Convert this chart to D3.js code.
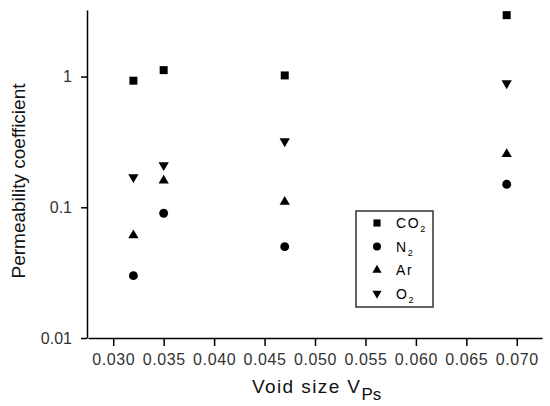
<!DOCTYPE html>
<html>
<head>
<meta charset="utf-8">
<script src="https://cdn.jsdelivr.net/npm/d3@7"></script>
<style>
    body { margin: 0; background: #fff; }
    svg { font-family: Arial, "Liberation Sans", sans-serif; }
    .axis path, .axis line { stroke: #000; stroke-width: 1.5; }
    .axis text { fill: #333; font-size: 16px; }
</style>
</head>
<body>
<svg width="550" height="406"></svg>
<script>
// data
const voidSizes = [0.032, 0.035, 0.047, 0.069];
const co2 = [0.93, 1.12, 1.02, 2.95];
const n2 = [0.03, 0.09, 0.05, 0.15];
const ar = [0.061, 0.16, 0.11, 0.255];
const o2 = [0.17, 0.21, 0.32, 0.89];

const xTicks = [0.030, 0.035, 0.040, 0.045, 0.050, 0.055, 0.060, 0.065, 0.070];
const xMinor = [0.0275, 0.0325, 0.0375, 0.0425, 0.0475, 0.0525, 0.0575, 0.0625, 0.0675, 0.0725];
const yTicks = [0.01, 0.1, 1];
const yTickLabels = ["0.01", "0.1", "1"];

const series = [
    { name: "CO", sub: "2", values: co2, symbol: d3.symbolSquare, size: 64, rot: 0 },
    { name: "N", sub: "2", values: n2, symbol: d3.symbolCircle, size: 62, rot: 0 },
    { name: "Ar", sub: "", values: ar, symbol: d3.symbolTriangle, size: 46, rot: 0 },
    { name: "O", sub: "2", values: o2, symbol: d3.symbolTriangle, size: 46, rot: 180 }
];

const svg = d3.select("svg");

// 1. scales
const x = d3.scaleLinear().domain([0.0275, 0.0725]).range([88, 542]);
const y = d3.scaleLog().domain([0.01, 3.23]).range([338, 10]);

// minor ticks for log axis: 2..9 in each decade
let yMinor = [];
[0.01, 0.1, 1].forEach(dec => {
    for (let k = 2; k <= 9; k++) {
        const v = dec * k;
        if (v <= 3.23) yMinor.push(v);
    }
});

// 2. x axis
const xG = svg.append("g").attr("class", "axis").attr("transform", "translate(0,338)");
xG.call(d3.axisBottom(x).tickValues(xMinor).tickSize(4).tickFormat(""));
xG.call(d3.axisBottom(x).tickValues(xTicks).tickSize(8).tickSizeOuter(0).tickPadding(8).tickFormat(d3.format(".3f")));
xG.selectAll("text").style("letter-spacing", "0.6px");

// 3. y axis
const yG = svg.append("g").attr("class", "axis").attr("transform", "translate(87,0)");
yG.call(d3.axisLeft(y).tickValues(yMinor).tickSize(3).tickFormat(""));
yG.call(d3.axisLeft(y).tickValues(yTicks).tickSize(6).tickSizeOuter(0).tickPadding(9)
    .tickFormat((d, i) => yTickLabels[i]));

// 4. points
const pts = svg.append("g");
series.forEach(s => {
    pts.selectAll(null)
        .data(s.values)
        .enter()
        .append("path")
        .attr("d", d3.symbol().type(s.symbol).size(s.size))
        .attr("transform", (d, i) => "translate(" + x(voidSizes[i]) + "," + y(d) + ") rotate(" + s.rot + ")")
        .attr("fill", "#000");
});

// 5. axis titles
svg.append("text")
    .attr("transform", "translate(25,181) rotate(-90)")
    .attr("text-anchor", "middle")
    .style("font-size", "19px")
    .style("fill", "#111")
    .text("Permeability coefficient");

const xt = svg.append("text")
    .attr("x", 252)
    .attr("y", 393)
    .style("font-size", "19px")
    .style("fill", "#111");
xt.append("tspan").style("letter-spacing", "1.4px").text("Void size V");
xt.append("tspan").attr("dy", 7).style("font-size", "17px").text("Ps");

// 6. legend
const lg = svg.append("g").attr("transform", "translate(356,211)");
lg.append("rect")
    .attr("width", 77)
    .attr("height", 96)
    .attr("fill", "#fff")
    .attr("stroke", "#333")
    .attr("stroke-width", 1.5);

series.forEach((s, i) => {
    const ry = 12 + i * 23.5;
    lg.append("path")
        .attr("d", d3.symbol().type(s.symbol).size(s.size * 0.8))
        .attr("transform", "translate(21," + ry + ") rotate(" + s.rot + ")")
        .attr("fill", "#000");
    const t = lg.append("text")
        .attr("x", 40)
        .attr("y", ry + 5)
        .style("font-size", "14px")
        .style("fill", "#000");
    t.append("tspan").style("letter-spacing", "1.6px").text(s.name);
    if (s.sub) t.append("tspan").attr("dy", 4).style("font-size", "9px").text(s.sub);
});
</script>
</body>
</html>
